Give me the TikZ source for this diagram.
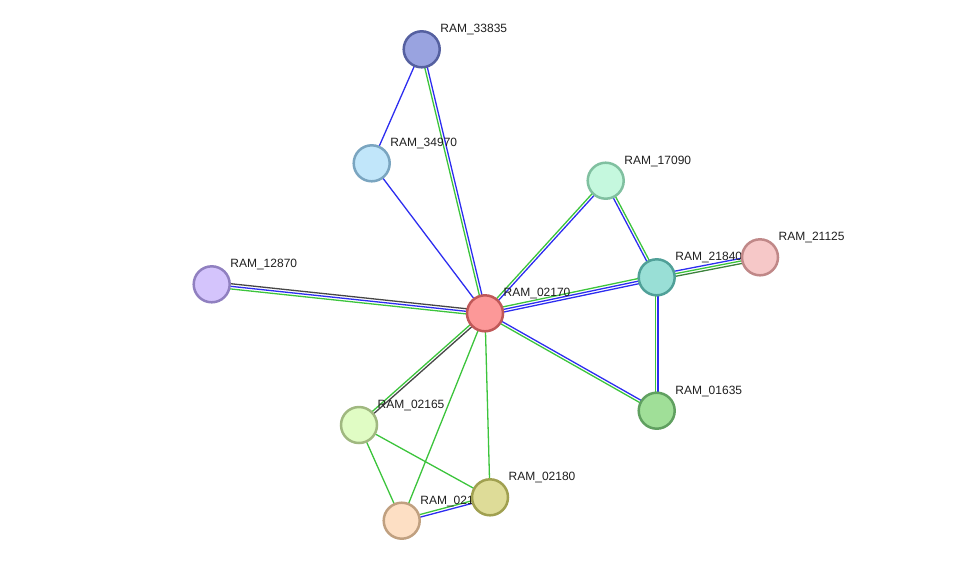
\documentclass[tikz,border=0pt]{standalone}
\usepackage{fontspec}
\setmainfont{Liberation Sans}
\usetikzlibrary{calc}
\pgfdeclarelayer{edges}
\pgfdeclarelayer{labels}
\pgfsetlayers{edges,labels,main}
\definecolor{eg}{RGB}{60,196,60}
\definecolor{eb}{RGB}{45,45,240}
\definecolor{ek}{RGB}{70,70,70}
\definecolor{edg}{RGB}{60,130,60}
\newcommand{\lkp}[4]{\draw[ln,#4] ($(#1.center)!#3!90:(#2.center)$) -- ($(#2.center)!#3!-90:(#1.center)$);}
\newcommand{\lkn}[4]{\draw[ln,#4] ($(#1.center)!#3!-90:(#2.center)$) -- ($(#2.center)!#3!90:(#1.center)$);}
\newcommand{\lko}[3]{\draw[ln,#3] (#1.center) -- (#2.center);}
\begin{document}
\begin{tikzpicture}[x=1pt,y=-1pt,
  prot/.style={circle,minimum size=36pt,inner sep=0pt,line width=2.5pt},
  lbl/.style={anchor=base west,font=\fontsize{12}{14}\selectfont,text=black!88,inner sep=0pt},
  ln/.style={line width=1.3pt}]
\useasboundingbox (0,0) rectangle (976,566);
% proteins
\node[prot,fill={rgb,255:red,153;green,163;blue,224},draw={rgb,255:red,85;green,96;blue,160}] (n33835) at (421.7,49.3) {};
\node[prot,fill={rgb,255:red,193;green,230;blue,250},draw={rgb,255:red,122;green,165;blue,192}] (n34970) at (371.7,163.3) {};
\node[prot,fill={rgb,255:red,197;green,248;blue,222},draw={rgb,255:red,128;green,192;blue,160}] (n17090) at (605.7,180.7) {};
\node[prot,fill={rgb,255:red,153;green,223;blue,214},draw={rgb,255:red,80;green,160;blue,152}] (n21840) at (656.7,277.3) {};
\node[prot,fill={rgb,255:red,246;green,200;blue,200},draw={rgb,255:red,192;green,136;blue,136}] (n21125) at (760,257.3) {};
\node[prot,fill={rgb,255:red,212;green,196;blue,252},draw={rgb,255:red,144;green,128;blue,192}] (n12870) at (211.7,284.3) {};
\node[prot,fill={rgb,255:red,252;green,152;blue,152},draw={rgb,255:red,192;green,88;blue,88}] (n02170) at (485,313.3) {};
\node[prot,fill={rgb,255:red,160;green,223;blue,152},draw={rgb,255:red,96;green,160;blue,96}] (n01635) at (656.7,410.7) {};
\node[prot,fill={rgb,255:red,224;green,252;blue,196},draw={rgb,255:red,160;green,184;blue,128}] (n02165) at (359,425) {};
\node[prot,fill={rgb,255:red,222;green,220;blue,152},draw={rgb,255:red,160;green,160;blue,80}] (n02180) at (490,497.3) {};
\node[prot,fill={rgb,255:red,253;green,223;blue,196},draw={rgb,255:red,192;green,160;blue,128}] (n02175) at (401.7,520.7) {};
% labels
\begin{pgfonlayer}{labels}
\node[lbl] (t33835) at ($(n33835.center)+(18.5,-16.5)$) {RAM\_33835};
\node[lbl] (t34970) at ($(n34970.center)+(18.5,-16.5)$) {RAM\_34970};
\node[lbl] (t17090) at ($(n17090.center)+(18.5,-16.5)$) {RAM\_17090};
\node[lbl] (t21840) at ($(n21840.center)+(18.5,-16.5)$) {RAM\_21840};
\node[lbl] (t21125) at ($(n21125.center)+(18.5,-16.5)$) {RAM\_21125};
\node[lbl] (t12870) at ($(n12870.center)+(18.5,-16.5)$) {RAM\_12870};
\node[lbl] (t02170) at ($(n02170.center)+(18.5,-16.5)$) {RAM\_02170};
\node[lbl] (t01635) at ($(n01635.center)+(18.5,-16.5)$) {RAM\_01635};
\node[lbl] (t02165) at ($(n02165.center)+(18.5,-16.5)$) {RAM\_02165};
\node[lbl] (t02180) at ($(n02180.center)+(18.5,-16.5)$) {RAM\_02180};
\node[lbl] (t02175) at ($(n02175.center)+(18.5,-16.5)$) {RAM\_02175};
\end{pgfonlayer}
% edges
\begin{pgfonlayer}{edges}
\lko{n33835}{n34970}{eb}
\lko{n34970}{n02170}{eb}
\lkn{n33835}{n02170}{1.3pt}{eg}
\lkp{n33835}{n02170}{1.3pt}{eb}
\lkp{n12870}{n02170}{2.6pt}{ek}
\lko{n12870}{n02170}{eb}
\lkn{n12870}{n02170}{2.6pt}{eg}
\lkn{n17090}{n02170}{1.3pt}{eg}
\lkp{n17090}{n02170}{1.3pt}{eb}
\lkp{n17090}{n21840}{1.3pt}{eg}
\lkn{n17090}{n21840}{1.3pt}{eb}
\lkp{n02170}{n21840}{2.6pt}{eg}
\lko{n02170}{n21840}{eb}
\lkn{n02170}{n21840}{2.6pt}{eb}
\lkp{n21840}{n21125}{2.6pt}{eb}
\lko{n21840}{n21125}{eg}
\lkn{n21840}{n21125}{2.6pt}{edg}
\lkn{n21840}{n01635}{1.3pt}{eg}
\lkp{n21840}{n01635}{1.3pt}{eb}
\lkp{n02170}{n01635}{1.3pt}{eb}
\lkn{n02170}{n01635}{1.3pt}{eg}
\lkn{n02170}{n02165}{1.3pt}{eg}
\lkp{n02170}{n02165}{1.3pt}{ek}
\lko{n02170}{n02175}{eg}
\lko{n02170}{n02180}{eg}
\lko{n02165}{n02175}{eg}
\lko{n02165}{n02180}{eg}
\lkp{n02175}{n02180}{1.3pt}{eg}
\lkn{n02175}{n02180}{1.3pt}{eb}
\end{pgfonlayer}
\end{tikzpicture}
\end{document}
